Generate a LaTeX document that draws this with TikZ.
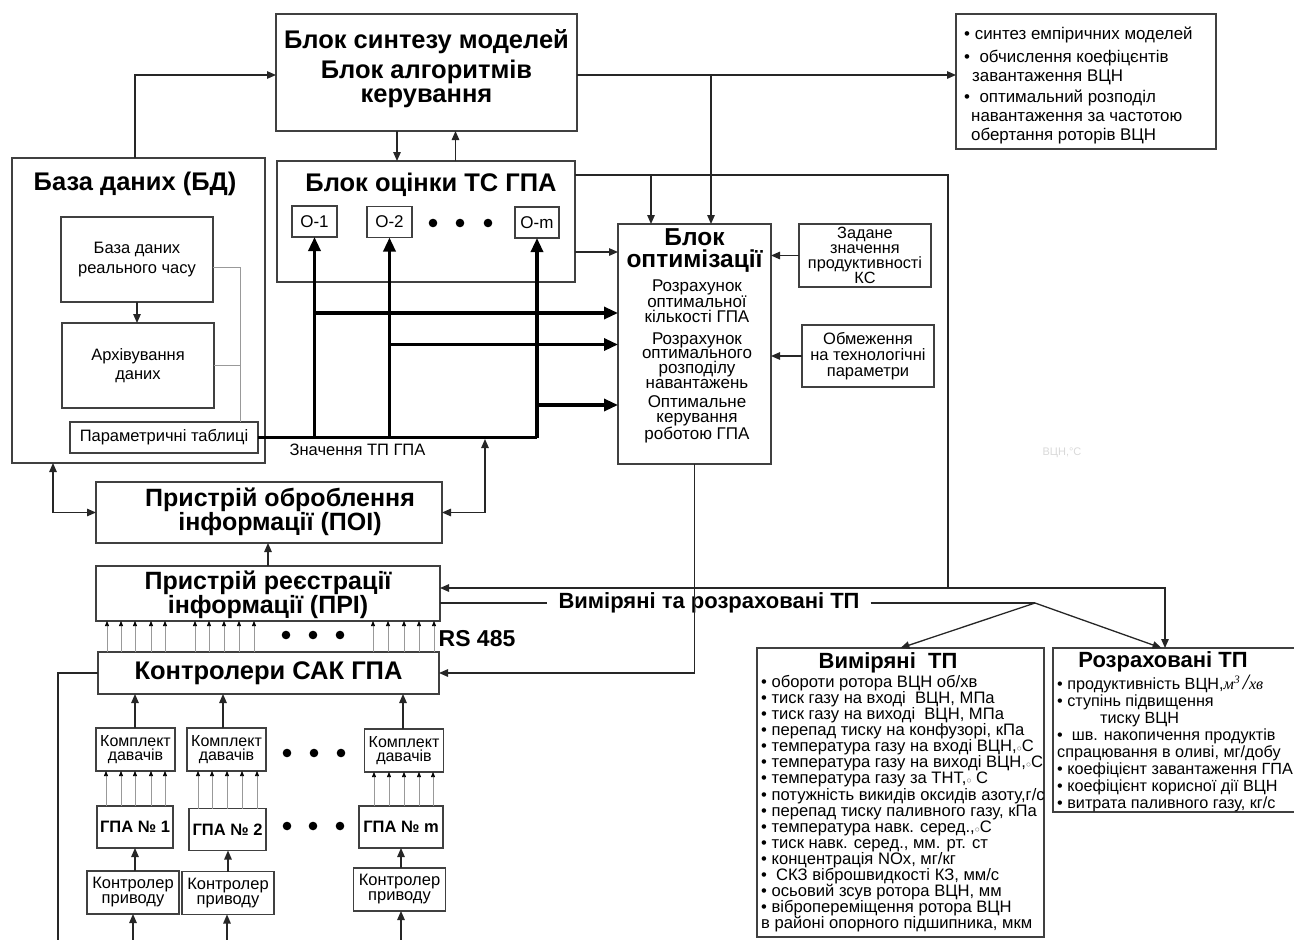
\documentclass[tikz,border=0pt]{standalone}
\usepackage{fontspec}
\setmainfont{Liberation Sans}
\newfontfamily\serifit{Liberation Serif}
\usetikzlibrary{arrows.meta,positioning}
\newcommand\fs[2]{\fontsize{#1}{#2}\selectfont}
\newcommand\degc{{\fs{10}{10}\color{black!55}$\circ$}}
\newcommand\rate{{\serifit\itshape м\textsuperscript{3}\,{\fs{22}{17}/}хв}}
\tikzset{
 box/.style={draw=black!75,line width=1.3pt,inner sep=0pt,outer sep=0pt,align=center},
 ln/.style={line width=1.3pt,draw=black!85},
 arr/.style={ln,-{Triangle[length=9pt,width=7.5pt]}},
 dbl/.style={ln,{Triangle[length=9pt,width=7.5pt]}-{Triangle[length=9pt,width=7.5pt]}},
 thk/.style={line width=3.2pt},
 thkarr/.style={line width=3.2pt,-{Triangle[length=14pt,width=12pt]}},
 tiny/.style={line width=0.7pt,draw=black!40,-{Triangle[length=5pt,width=4pt,color=black]}},
 gry/.style={line width=0.7pt,draw=black!40},
 ttl/.style={font=\bfseries\fs{25.5}{22},align=center,inner sep=0pt},
 txt/.style={font=\fs{16.5}{15},align=center,inner sep=0pt},
 lst/.style={anchor=north west,inner sep=0pt,align=left},
}
\begin{document}
\begin{tikzpicture}[x=1pt,y=-1pt]
\useasboundingbox (0,0) rectangle (1294,940);
\node[box,minimum width=301,minimum height=117] (synt) at (426.5,72.5) {};
\node[ttl] (synta) at (426.5,42) {Блок синтезу моделей};
\node[ttl,font=\bfseries\fs{25.5}{23.5}] (syntb) at (426.5,84) {Блок алгоритмів\\керування};
\node[box,minimum width=260,minimum height=135] (list) at (1086,81.5) {};
\node[lst,font=\fs{16.9}{19.3}] (listtxt) at (964,27) {• синтез емпіричних моделей\\[3.5pt]
 •\ \ обчислення коефіцєнтів\\\hspace*{8pt}завантаження ВЦН\\[1pt]
 •\ \ оптимальний розподіл\\\hspace*{7pt}навантаження за частотою\\\hspace*{7pt}обертання роторів ВЦН};
\node[box,minimum width=253,minimum height=305] (bd) at (138.5,310.5) {};
\node[ttl] (bdttl) at (135,184) {База даних (БД)};
\node[box,minimum width=152,minimum height=85,font=\fs{16.5}{20}] (rt) at (137,259.5) {База даних\\реального часу};
\node[box,minimum width=152,minimum height=85,font=\fs{16.5}{19}] (arch) at (138,365.5) {Архівування\\даних};
\node[box,minimum width=188,minimum height=31,font=\fs{16.5}{19}] (param) at (164,437.5) {Параметричні таблиці};
\node[box,minimum width=298,minimum height=121] (estim) at (426,221.5) {};
\node[ttl] (estimttl) at (431,185) {Блок оцінки ТС ГПА};
\node[box,minimum width=45,minimum height=31,font=\fs{17}{17}] (o1) at (314.5,221.5) {О-1};
\node[box,minimum width=45,minimum height=31,font=\fs{17}{17}] (o2) at (389.5,222) {О-2};
\node[box,minimum width=44,minimum height=31,font=\fs{17}{17}] (om) at (537,222.5) {О-m};
\foreach \x in {433,460,488} \fill (\x,223) circle (4.3pt);
\node[box,minimum width=153,minimum height=240] (opt) at (694.5,344) {};
\node[ttl,font=\bfseries\fs{24.5}{22}] (optttl) at (694.5,251) {Блок\\оптимізації};
\node[txt,font=\fs{17}{14.8}] (opta) at (697,301) {Розрахунок\\оптимальної\\кількості ГПА};
\node[txt,font=\fs{17}{14.8}] (optb) at (697,360.5) {Розрахунок\\оптимального\\розподілу\\навантажень};
\node[txt,font=\fs{17}{14.8}] (optc) at (697,419) {Оптимальне\\керування\\роботою ГПА};
\node[box,minimum width=132,minimum height=63,font=\fs{16.3}{14.8}] (zad) at (865,255.5) {Задане\\значення\\продуктивності\\КС};
\node[box,minimum width=132,minimum height=62,font=\fs{16.5}{16}] (obm) at (868,356) {Обмеження\\на технологічні\\параметри};
\node[txt] (zntp) at (357.5,450) {Значення ТП ГПА};
\node[font=\fs{11}{11},text=black!15,inner sep=0pt] (ghost) at (1062,453) {ВЦН,°С};
\node[box,minimum width=346,minimum height=61] (poi) at (269,512.5) {};
\node[ttl,font=\bfseries\fs{25}{20}] (poitxt) at (280,512) {Пристрій оброблення\\інформації (ПОІ)};
\node[box,minimum width=344,minimum height=55] (pri) at (268,593.5) {};
\node[ttl,font=\bfseries\fs{25}{20}] (pritxt) at (268,595) {Пристрій реєстрації\\інформації (ПРІ)};
\node[box,minimum width=341,minimum height=42,font=\bfseries\fs{25.5}{24}] (ctrl) at (268.5,673) {Контролери САК ГПА};
\node[font=\bfseries\fs{23}{23},inner sep=0pt] (rs) at (477,639) {RS 485};
\node[font=\bfseries\fs{22}{22},inner sep=0pt,inner xsep=11pt] (vrtp) at (709,603) {Виміряні та розраховані ТП};
\foreach \n/\x/\y in {k1/135.5/749.5,k2/226.5/749.5,k3/404/750.5}
 \node[box,minimum width=79,minimum height=43,font=\fs{16}{14}] (\n) at (\x,\y) {Комплект\\давачів};
\foreach \n/\x/\y/\w/\t in {g1/135/827/76/1,g2/227.5/829.5/77/2,gm/401/827/84/m}
 \node[box,minimum width=\w,minimum height=42,font=\bfseries\fs{16.5}{16.5}] (\n) at (\x,\y) {ГПА № \t};
\foreach \n/\x/\y in {d1/133/892.5,d2/228/893,d3/399.5/889.5}
 \node[box,minimum width=92,minimum height=43,font=\fs{16.5}{15}] (\n) at (\x,\y) {Контролер\\приводу};
\node[box,minimum width=287,minimum height=289] (vym) at (900.5,792.5) {};
\node[ttl,font=\bfseries\fs{22}{22}] (vymttl) at (888,663) {Виміряні\ \ ТП};
\node[lst,font=\fs{16.6}{16.1}] (vymtxt) at (761,675) {• обороти ротора ВЦН об/хв\\
 • тиск газу на вході\ \ ВЦН, МПа\\
 • тиск газу на виході\ \ ВЦН, МПа\\
 • перепад тиску на конфузорі, кПа\\
 • температура газу на вході ВЦН,\degc С\\
 • температура газу на виході ВЦН,\degc С\\
 • температура газу за ТНТ,\degc\ С\\
 • потужність викидів оксидів азоту,г/с\\
 • перепад тиску паливного газу, кПа\\
 • температура навк. серед.,\degc С\\
 • тиск навк. серед., мм. рт. ст\\
 • концентрація NOx, мг/кг\\
 •\ \ СКЗ віброшвидкості КЗ, мм/с\\
 • осьовий зсув ротора ВЦН, мм\\
 • вібропереміщення ротора ВЦН\\
 в районі опорного підшипника, мкм};
\node[box,minimum width=257,minimum height=164] (roz) at (1181.5,730) {};
\node[ttl,font=\bfseries\fs{22}{22}] (rozttl) at (1163,662) {Розраховані ТП};
\node[lst,font=\fs{16.2}{17}] (roztxt) at (1057,675) {• продуктивність ВЦН,\rate\\
 • ступінь підвищення\\
 \hspace*{43pt}тиску ВЦН\\
 •\ \ шв. накопичення продуктів\\
 спрацювання в оливі, мг/добу\\
 • коефіцієнт завантаження ГПА\\
 • коефіцієнт корисної дії ВЦН\\
 • витрата паливного газу, кг/с};
\coordinate (br1) at (711,75);
\coordinate (br2) at (651,175);
\coordinate (jn) at (948,588);
\coordinate (split) at (1035,603);
\coordinate (tp) at (485,437.5);
\coordinate (lb) at (58,945);
\coordinate (bot) at (0,945);
\draw[arr] ([xshift=-3.5pt]bd.north) |- ([yshift=-2.5pt]synt.west);
\draw[arr] ([yshift=-2.5pt]synt.east) -- ([yshift=-2.5pt]synt.east -| list.west);
\draw[arr] (br1) -- (br1 |- opt.north);
\draw[arr] ([xshift=-29.5pt]synt.south) -- ([xshift=-29.5pt]synt.south |- estim.north);
\draw[arr] ([xshift=29.5pt]estim.north) -- ([xshift=29.5pt]estim.north |- synt.south);
\draw[ln] ([yshift=46.5pt]estim.east) -| (jn);
\draw[arr] (br2) -- (br2 |- opt.north);
\draw[arr] ([yshift=-30.5pt]estim.east) -- ([yshift=-30.5pt]estim.east -| opt.west);
\draw[arr] (zad.west) -- (zad.west -| opt.east);
\draw[arr] (obm.west) -- (obm.west -| opt.east);
\draw[arr] (rt.south) -- (rt.south |- arch.north);
\draw[gry] ([yshift=-7.5pt]rt.east) -| (240,0 |- param.north);
\draw[gry] (arch.east) -- (arch.east -| 240,0);
\draw[thk] (param.east) -- (om.south |- param.east);
\foreach \o in {o1,o2,om} \draw[thkarr] (\o.south |- param.east) -- (\o.south);
\foreach \o/\y in {o1/313,o2/344.5,om/405} \draw[thkarr] (\o.south |- 0,\y) -- (opt.west |- 0,\y);
\draw[dbl] ([xshift=-85.5pt]bd.south) |- (poi.west);
\draw[dbl,shorten >=1.5pt] (poi.east) -| (tp);
\draw[arr] (pri.north) -- (pri.north |- poi.south);
\foreach \x in {107,121,135,151,165,195,209,224,239,254,373,388,404,419,434}
 \draw[tiny] (\x,0 |- ctrl.north) -- (\x,0 |- pri.south);
\foreach \x in {286,313,340} \fill (\x,635) circle (4.3pt);
\draw[arr] (jn) -- (jn -| pri.east);
\draw[arr] (jn) -| ([xshift=-16.5pt]roz.north);
\draw[ln] ([yshift=-9.5pt]pri.east) -- (vrtp.west);
\draw[ln] (vrtp.east) -- (split);
\draw[arr] (split) -- (vym.north);
\draw[arr] (split) -- ([xshift=-20pt]roz.north);
\draw[arr] (opt.south) |- (ctrl.east);
\draw[ln] (ctrl.west) -| (lb);
\foreach \k/\x in {k1/135,k2/223,k3/403} \draw[arr] (\x,0 |- \k.north) -- (\x,0 |- ctrl.south);
\foreach \g/\k/\xs in {g1/k1/{106,121,135,151,165},g2/k2/{198,212,227,242,257},gm/k3/{374,389,404,419,433}}
 \foreach \x in \xs \draw[tiny] (\x,0 |- \g.north) -- (\x,0 |- \k.south);
\foreach \x/\y in {287/753,314/753,341/753,287/826,313/826,340/826} \fill (\x,\y) circle (4.3pt);
\foreach \d/\g/\x in {d1/g1/135,d2/g2/228,d3/gm/401} \draw[arr] (\x,0 |- \d.north) -- (\x,0 |- \g.south);
\foreach \d/\x in {d1/133,d2/227,d3/401} \draw[arr] (\x,0 |- bot) -- (\x,0 |- \d.south);
\end{tikzpicture}
\end{document}
